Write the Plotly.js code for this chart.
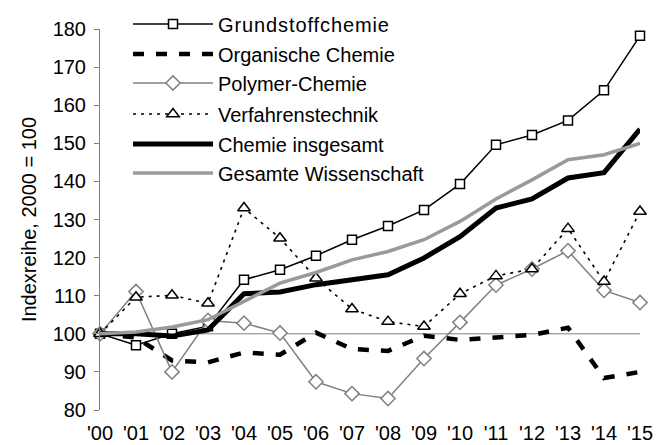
<!DOCTYPE html>
<html>
<head>
<meta charset="utf-8">
<script src="https://cdn.plot.ly/plotly-3.0.1.min.js"></script>
<style>html,body{margin:0;padding:0;background:#fff;}#chart{width:665px;height:445px;}
.legendtext{letter-spacing:0.9px;}</style>
</head>
<body>
<div id="chart"></div>
<script>
const years = ["'00","'01","'02","'03","'04","'05","'06","'07","'08","'09","'10","'11","'12","'13","'14","'15"];
const grundstoff   = [100, 97, 100, 102, 114.2, 116.8, 120.5, 124.7, 128.3, 132.5, 139.3, 149.6, 152.2, 156.0, 163.9, 178.2];
const organische   = [100, 99, 93, 92.5, 95.1, 94.5, 100.3, 96, 95.5, 99.5, 98.4, 99, 99.7, 101.6, 88.4, 90];
const polymer      = [100, 111.1, 90, 103.5, 102.8, 100.2, 87.4, 84.3, 83, 93.5, 103, 112.8, 117, 121.8, 111.4, 108.2];
const verfahren    = [100, 109.6, 110.1, 108, 133, 125.1, 114.6, 106.5, 103.2, 101.9, 110.5, 115.2, 117, 127.6, 113.7, 132.1];
const chemieGes    = [100, 100, 99.4, 101, 110.5, 111, 112.9, 114.2, 115.5, 119.9, 125.5, 133, 135.4, 140.9, 142.3, 153.7];
const wissenschaft = [100, 100.5, 101.8, 103.7, 108.5, 113.3, 116.1, 119.4, 121.6, 124.7, 129.5, 135.4, 140.4, 145.7, 147, 150];
const names = ["Grundstoffchemie","Organische Chemie","Polymer-Chemie","Verfahrenstechnik","Chemie insgesamt","Gesamte Wissenschaft"];
const yTicks = [80,90,100,110,120,130,140,150,160,170,180];

const FONT = "Liberation Sans, Arial, sans-serif";
const traces = [
  {x: years, y: grundstoff, name: names[0], mode: 'lines+markers', legend: 'legend',
   line: {color: '#000', width: 1.5}, marker: {symbol: 'square', size: 9, color: '#fff', line: {color: '#000', width: 1.5}}},
  {x: years, y: organische, name: names[1], mode: 'lines', legend: 'legend2',
   line: {color: '#000', width: 4.5, dash: '11px,12px'}},
  {x: years, y: polymer, name: names[2], mode: 'lines+markers', legend: 'legend3',
   line: {color: '#808080', width: 1.5}, marker: {symbol: 'diamond', size: 11, color: '#fff', line: {color: '#808080', width: 1.5}}},
  {x: years, y: verfahren, name: names[3], mode: 'lines+markers', legend: 'legend4',
   line: {color: '#000', width: 1.6, dash: '3px,5px'}, marker: {symbol: 'triangle-up', size: 11, color: '#fff', line: {color: '#000', width: 1.5}}},
  {x: years, y: chemieGes, name: names[4], mode: 'lines', legend: 'legend5',
   line: {color: '#000', width: 5}},
  {x: years, y: wissenschaft, name: names[5], mode: 'lines', legend: 'legend6',
   line: {color: '#9a9a9a', width: 3.5}}
];
traces.forEach(t => { t.cliponaxis = false; t.hoverinfo = 'skip'; });

const rowsPx = [24, 54, 83, 114, 144, 173];
function leg(py){
  return {x: (128-100)/540, y: (410-py)/381, xanchor: 'left', yanchor: 'middle', itemwidth: 80,
          bgcolor: 'rgba(0,0,0,0)', borderwidth: 0, font: {family: FONT, size: 20, color: '#000'}};
}
const layout = {
  width: 665, height: 445,
  margin: {l: 100, r: 25, t: 29, b: 35, autoexpand: false},
  paper_bgcolor: '#fff', plot_bgcolor: '#fff',
  font: {family: FONT, size: 20, color: '#000'},
  showlegend: true,
  xaxis: {type: 'category', range: [0, 15], showline: false, showgrid: false, zeroline: false,
          ticks: '', tickfont: {family: FONT, size: 20, color: '#000'}, ticklabelstandoff: 9},
  yaxis: {range: [80, 180], tickvals: yTicks, ticktext: yTicks.map(String), showline: true, linecolor: '#808080', linewidth: 1,
          ticks: 'outside', ticklen: 5, tickcolor: '#808080', showgrid: false, zeroline: false,
          tickfont: {family: FONT, size: 20, color: '#000'}, ticklabelstandoff: 4,
          title: {text: 'Indexreihe, 2000 = 100', font: {family: FONT, size: 20, color: '#000'}, standoff: 10}},
  shapes: [{type: 'line', xref: 'paper', x0: 0, x1: 1, yref: 'y', y0: 100, y1: 100, layer: 'below',
            line: {color: '#808080', width: 1}}],
  legend: leg(rowsPx[0]), legend2: leg(rowsPx[1]), legend3: leg(rowsPx[2]),
  legend4: leg(rowsPx[3]), legend5: leg(rowsPx[4]), legend6: leg(rowsPx[5])
};
Plotly.newPlot('chart', traces, layout, {displayModeBar: false, staticPlot: true}).then(gd => {
  gd.querySelectorAll('.legendlines path').forEach(p => p.setAttribute('d', 'M5,0h80'));
  gd.querySelectorAll('.legendsymbols .legendpoints path, .legendpoints .scatterpts').forEach(p => {
    p.setAttribute('transform', 'translate(45,0)');
  });
});
</script>
</body>
</html>
